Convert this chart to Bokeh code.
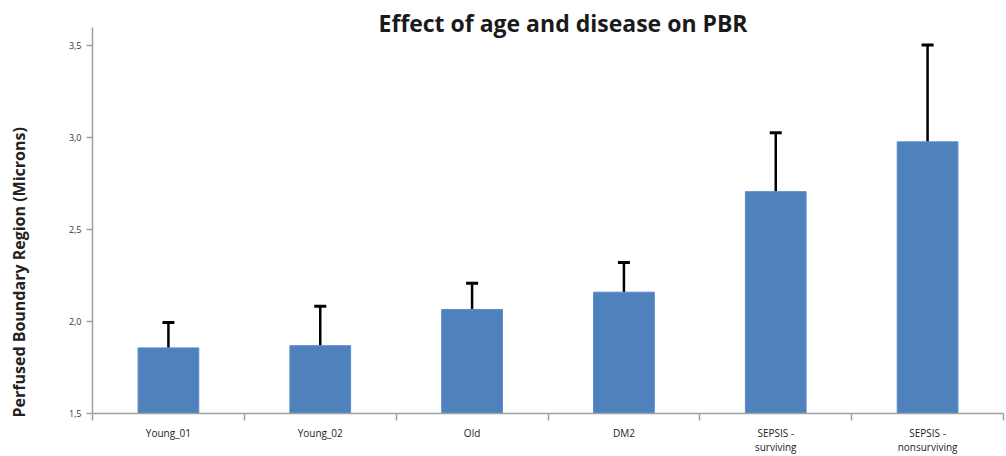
import numpy as np
from bokeh.plotting import figure
from bokeh.models import ColumnDataSource, Whisker, TeeHead, FixedTicker, Range1d, Title
from bokeh.embed import file_html
from bokeh.resources import INLINE

# ---- data ----
categories = ["Young_01", "Young_02", "Old", "DM2", "SEPSIS - surviving", "SEPSIS - nonsurviving"]
means = [1.857, 1.869, 2.066, 2.160, 2.707, 2.978]
errors = [0.138, 0.214, 0.142, 0.161, 0.320, 0.527]
y_ticks = [1.5, 2.0, 2.5, 3.0, 3.5]
title_text = "Effect of age and disease on PBR"
y_label_text = "Perfused Boundary Region (Microns)"

FONT = "Open Sans"
n = len(categories)
centers = [i + 0.5 for i in range(n)]
bounds = [float(i) for i in range(n + 1)]

src = ColumnDataSource(dict(
    x=centers,
    top=means,
    lower=means,
    upper=[m + e for m, e in zip(means, errors)],
))

y0, y1 = 1.5, 3.6
W, H = 1006, 456

p = figure(width=W, height=H, output_backend="svg", toolbar_location=None,
           x_range=Range1d(0, n), y_range=Range1d(y0, y1),
           min_border_left=92, min_border_right=3, min_border_top=27, min_border_bottom=43)
p.outline_line_color = None
p.xgrid.visible = False
p.ygrid.visible = False
p.background_fill_color = "white"
p.border_fill_color = "white"

p.vbar(x="x", top="top", bottom=y0, width=0.4, source=src,
       fill_color="#4F81BD", line_color="#5b8cc6", line_width=1)

wh = Whisker(source=src, base="x", lower="lower", upper="upper", dimension="height",
             line_color="black", line_width=2.5,
             upper_head=TeeHead(size=12, line_color="black", line_width=3),
             lower_head=None)
p.add_layout(wh)

axis_color = "#a0a0a0"
# x axis
xa = p.xaxis[0]
xa.ticker = FixedTicker(ticks=centers, minor_ticks=bounds)
xa.major_label_overrides = {c: cat.replace(" - ", " -\n") for c, cat in zip(centers, categories)}
xa.major_tick_line_color = None
xa.minor_tick_line_color = axis_color
xa.minor_tick_line_width = 1.5
xa.minor_tick_in = 0
xa.minor_tick_out = 7
xa.axis_line_color = axis_color
xa.axis_line_width = 1.5
xa.major_label_standoff = 5
xa.major_label_text_font = FONT
xa.major_label_text_font_size = "10px"
xa.major_label_text_color = "#222222"
xa.major_label_text_line_height = 1.0

# y axis
ya = p.yaxis[0]
ya.ticker = FixedTicker(ticks=y_ticks, minor_ticks=[])
ya.major_label_overrides = {t: f"{t:.1f}".replace(".", ",") for t in y_ticks}
ya.major_tick_line_color = axis_color
ya.major_tick_line_width = 1.5
ya.major_tick_in = 0
ya.major_tick_out = 6
ya.minor_tick_line_color = None
ya.axis_line_color = axis_color
ya.axis_line_width = 1.5
ya.major_label_standoff = 5
ya.major_label_text_font = FONT
ya.major_label_text_font_size = "9px"
ya.major_label_text_color = "#333333"
# blank axis label used only as spacing between tick labels and the y title
ya.axis_label = " "
ya.axis_label_text_font_size = "10px"
ya.axis_label_standoff = 17

p.add_layout(Title(text=title_text, text_font=FONT, text_font_size="23px",
                   text_font_style="bold", text_color="#1a1a1a", align="left",
                   offset=286, standoff=-23, text_line_height=1.0), "above")

p.add_layout(Title(text=y_label_text, text_font=FONT, text_font_size="16px",
                   text_font_style="bold", text_color="#222222", align="left",
                   offset=-4, standoff=10, text_line_height=1.0), "left")

open("out.html", "w").write(file_html(p, INLINE))
